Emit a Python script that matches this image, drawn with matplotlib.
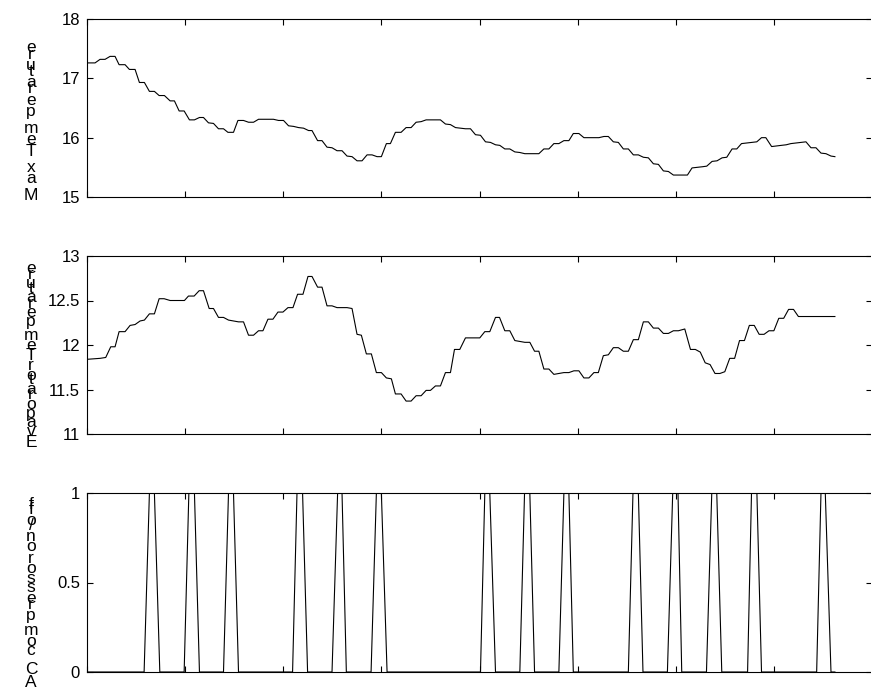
import numpy as np
import matplotlib
matplotlib.use("Agg")
import matplotlib.pyplot as plt
from matplotlib.font_manager import FontProperties
from matplotlib.textpath import text_to_path

# --- max temperature: (time, value) vertices of the logged trace
tmax_t = [0.10, 0.82, 1.33, 1.84, 2.35, 2.86, 3.27, 3.88, 4.32, 4.90, 5.34, 5.85,
          6.36, 6.87, 7.35, 7.89, 8.47, 8.91, 9.39, 9.90, 10.44, 10.95, 11.46, 11.87,
          12.38, 12.89, 13.40, 13.91, 14.36, 14.93, 15.38, 15.95, 16.46, 16.97, 17.48,
          19.00, 19.52, 20.03, 20.54, 21.05, 21.56, 22.07, 22.58, 22.93, 23.50, 23.95,
          24.46, 24.97, 25.48, 25.99, 26.50, 27.01, 27.52, 28.03, 28.54, 29.05, 29.56,
          30.00, 30.51, 30.92, 31.43, 32.01, 32.52, 33.03, 33.54, 34.05, 34.56, 36.02,
          36.53, 37.04, 37.55, 38.06, 38.57, 39.08, 39.59, 40.10, 40.61, 41.12, 41.63,
          42.07, 42.58, 43.09, 43.60, 44.11, 44.62, 46.05, 46.56, 47.07, 47.58, 48.09,
          48.60, 49.11, 49.56, 50.13, 50.64, 52.17, 52.68, 53.13, 53.64, 54.15, 54.66,
          55.17, 55.68, 56.19, 56.70, 57.21, 57.72, 58.23, 58.74, 59.25, 59.76, 61.19,
          61.66, 62.21, 62.72, 63.16, 63.70, 64.21, 64.72, 65.20, 65.74, 66.22, 66.70,
          67.21, 67.72, 68.26, 68.74, 69.18, 69.77, 70.23, 70.74, 71.26, 71.73, 72.24,
          72.76, 73.27, 73.78, 74.29, 74.80, 75.31, 75.82, 76.22]
tmax_v = [17.26, 17.26, 17.32, 17.32, 17.37, 17.37, 17.23, 17.23, 17.15, 17.15, 16.93, 16.93,
          16.78, 16.78, 16.71, 16.71, 16.62, 16.62, 16.45, 16.45, 16.30, 16.30, 16.34, 16.34,
          16.25, 16.24, 16.15, 16.15, 16.09, 16.09, 16.29, 16.29, 16.26, 16.26, 16.31,
          16.31, 16.29, 16.29, 16.20, 16.19, 16.17, 16.16, 16.12, 16.12, 15.95, 15.95,
          15.84, 15.83, 15.78, 15.78, 15.69, 15.68, 15.61, 15.61, 15.71, 15.71, 15.68,
          15.68, 15.90, 15.90, 16.09, 16.09, 16.17, 16.17, 16.26, 16.27, 16.30, 16.30,
          16.23, 16.22, 16.17, 16.16, 16.15, 16.15, 16.05, 16.04, 15.93, 15.92, 15.88,
          15.87, 15.81, 15.81, 15.76, 15.75, 15.73, 15.73, 15.81, 15.81, 15.90, 15.90,
          15.95, 15.95, 16.07, 16.07, 16.00, 16.00, 16.02, 16.02, 15.93, 15.92, 15.81,
          15.81, 15.71, 15.71, 15.67, 15.66, 15.56, 15.55, 15.44, 15.43, 15.37, 15.37,
          15.49, 15.50, 15.51, 15.52, 15.60, 15.61, 15.66, 15.67, 15.81, 15.81, 15.90,
          15.91, 15.92, 15.93, 16.00, 16.00, 15.85, 15.86, 15.87, 15.88, 15.90, 15.91,
          15.92, 15.93, 15.83, 15.83, 15.74, 15.73, 15.69, 15.68]

# --- evaporator temperature
tevap_t = [0.10, 1.33, 1.91, 2.42, 2.86, 3.27, 3.88, 4.39, 4.90, 5.41, 5.85, 6.36, 6.87,
           7.35, 7.86, 8.47, 9.93, 10.34, 10.92, 11.43, 11.87, 12.45, 12.89, 13.40,
           13.91, 14.42, 14.93, 15.44, 15.95, 16.46, 16.97, 17.48, 17.93, 18.44, 18.95,
           19.46, 19.97, 20.48, 20.99, 21.46, 22.01, 22.52, 22.93, 23.50, 23.95, 24.46,
           24.97, 25.48, 26.50, 27.01, 27.52, 27.96, 28.47, 28.98, 29.49, 30.00, 30.51,
           31.02, 31.43, 32.01, 32.52, 33.03, 33.54, 34.05, 34.56, 35.00, 35.51, 36.02,
           36.53, 37.04, 37.45, 37.99, 38.57, 40.03, 40.54, 41.05, 41.63, 42.04, 42.58,
           43.09, 43.60, 44.11, 44.62, 45.13, 45.61, 46.05, 46.56, 47.07, 47.58, 48.09,
           48.60, 49.11, 49.62, 50.13, 50.64, 51.15, 51.66, 52.11, 52.62, 53.13, 53.64,
           54.15, 54.66, 55.17, 55.68, 56.19, 56.70, 57.21, 57.72, 58.23, 58.74, 59.25,
           59.76, 60.27, 60.92, 61.50, 62.00, 62.50, 63.00, 63.50, 64.00, 64.50, 65.00,
           65.50, 66.00, 66.50, 67.00, 67.50, 68.00, 68.50, 69.00, 69.50, 70.00, 70.50,
           71.00, 71.50, 72.00, 72.50, 76.22]
tevap_v = [11.84, 11.85, 11.86, 11.98, 11.98, 12.15, 12.15, 12.22, 12.23, 12.27, 12.28,
           12.35, 12.35, 12.52, 12.52, 12.50, 12.50, 12.55, 12.55, 12.61, 12.61, 12.41,
           12.41, 12.31, 12.31, 12.28, 12.27, 12.26, 12.26, 12.11, 12.11, 12.16, 12.16,
           12.29, 12.29, 12.37, 12.37, 12.42, 12.42, 12.57, 12.57, 12.77, 12.77, 12.65,
           12.65, 12.44, 12.44, 12.42, 12.42, 12.41, 12.12, 12.11, 11.90, 11.90, 11.69,
           11.69, 11.63, 11.62, 11.45, 11.45, 11.37, 11.37, 11.43, 11.43, 11.49, 11.49,
           11.54, 11.54, 11.69, 11.69, 11.95, 11.95, 12.08, 12.08, 12.15, 12.15, 12.31,
           12.31, 12.16, 12.16, 12.05, 12.04, 12.03, 12.03, 11.93, 11.93, 11.73, 11.73,
           11.67, 11.68, 11.69, 11.69, 11.71, 11.71, 11.63, 11.63, 11.69, 11.69, 11.88,
           11.89, 11.97, 11.97, 11.93, 11.93, 12.06, 12.06, 12.26, 12.26, 12.19, 12.19,
           12.13, 12.13, 12.16, 12.16, 12.18, 11.95, 11.95, 11.92, 11.80, 11.78, 11.68,
           11.68, 11.70, 11.85, 11.85, 12.05, 12.05, 12.22, 12.22, 12.12, 12.12, 12.16,
           12.16, 12.30, 12.30, 12.40, 12.40, 12.32, 12.32]

# --- compressor state (0 = off, 1 = on)
comp_t = [0.10,
          5.82, 6.36, 6.87, 7.42,
          9.90, 10.38, 10.95, 11.46,
          13.91, 14.42, 14.93, 15.44,
          20.95, 21.40, 21.97, 22.48,
          24.97, 25.54, 25.99, 26.43,
          28.95, 29.49, 30.00, 30.58,
          40.10, 40.54, 41.05, 41.63,
          44.11, 44.59, 45.13, 45.61,
          48.09, 48.60, 49.11, 49.56,
          55.17, 55.64, 56.19, 56.66,
          59.15, 59.69, 60.23, 60.61,
          63.13, 63.67, 64.18, 64.69,
          67.32, 67.72, 68.27, 68.74,
          74.36, 74.80, 75.24, 75.82,
          76.22]
comp_v = [0] + [0, 1, 1, 0] * 14 + [0]

labels = ["Max Temperature", "Evaporator Temperature", "AC compressor on/off"]
yticks = [[15, 16, 17, 18], [11, 11.5, 12, 12.5, 13], [0, 0.5, 1]]
ylims = [(15, 18), (11, 13), (0, 1)]

W, H = 871, 688
fig = plt.figure(figsize=(W / 100, H / 100), dpi=100)
fp = FontProperties(family="Liberation Sans", size=12)
fp_lab = FontProperties(family="Liberation Sans", size=12.5)

# axes boxes in pixels from the top: (top, bottom)
boxes = [(19, 197), (256, 434), (493, 672)]
# baseline of the first and last glyph of each stacked y label
label_span = [(200, 52), (447, 273), (687, 509)]


def stacked_label(text, first_px, last_px, x_px=31):
    # upright glyphs running bottom to top, spaced by their advance width
    widths = [text_to_path.get_text_width_height_descent(c, fp_lab, ismath=False)[0]
              for c in text]
    cum = np.concatenate([[0], np.cumsum(widths[:-1])])
    cum = cum / cum[-1]
    for c, f in zip(text, cum):
        y = first_px + (last_px - first_px) * f
        fig.text(x_px / W, 1 - y / H, c, fontproperties=fp_lab,
                 ha="center", va="baseline", color="black")


series = [(tmax_t, tmax_v), (tevap_t, tevap_v), (comp_t, comp_v)]
for i, (t, v) in enumerate(series):
    top, bot = boxes[i]
    ax = fig.add_axes([87 / W, 1 - bot / H, 785 / W, (bot - top) / H])
    ax.plot(t, v, color="black", lw=0.8)
    ax.set_xlim(0, 80)
    ax.set_ylim(*ylims[i])
    ax.set_xticks(np.arange(0, 81, 10))
    ax.set_yticks(yticks[i])
    ax.set_yticklabels([f"{y:g}" for y in yticks[i]], fontproperties=fp)
    ax.tick_params(direction="in", length=4.5, width=0.8, top=True, right=True,
                   labelbottom=False, pad=5, colors="black")
    for s in ax.spines.values():
        s.set_linewidth(0.8)
    stacked_label(labels[i], *label_span[i])

fig.savefig("out.png", dpi=100)
